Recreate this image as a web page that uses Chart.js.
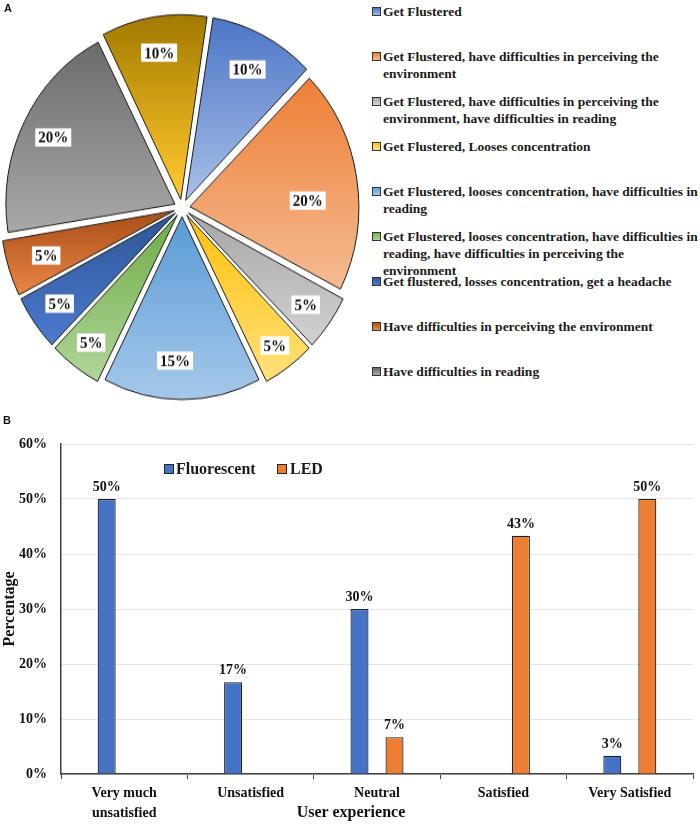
<!DOCTYPE html>
<html><head><meta charset="utf-8">
<script src="https://cdn.jsdelivr.net/npm/chart.js@4.4.1/dist/chart.umd.min.js"></script>
<style>
html,body{margin:0;padding:0;background:#fff;}
#wrap{position:relative;width:700px;height:824px;overflow:hidden;background:#fff;}
.panel{position:absolute;font:bold 11px "Liberation Sans",Arial,sans-serif;color:#111;line-height:11px;}
#pieCanvas{position:absolute;left:0;top:0;transform-origin:0 208px;transform:scaleY(1.076);}
#barCanvas{position:absolute;left:0;top:400px;}
#pieLegend{position:absolute;left:372px;top:0;width:328px;height:400px;font:bold 13.5px "Liberation Serif","Times New Roman",serif;color:#1a1a1a;}
.sw{position:absolute;left:0;width:7px;height:7px;border:1px solid #333;}
.tx{position:absolute;left:11px;white-space:nowrap;line-height:17px;}
#barLegend{position:absolute;left:0;top:0;font:bold 16px "Liberation Serif","Times New Roman",serif;color:#1a1a1a;}
.bsw{position:absolute;width:8px;height:8px;border:1px solid #222;}
.btx{position:absolute;white-space:nowrap;line-height:18px;}
#xTitle{position:absolute;left:251px;top:803px;width:200px;text-align:center;line-height:20px;font:bold 16px "Liberation Serif","Times New Roman",serif;color:#111;}
</style>
</head>
<body>
<div id="wrap">
  <canvas id="pieCanvas" width="365" height="400"></canvas>
  <div id="pieLegend"></div>
  <canvas id="barCanvas" width="700" height="424"></canvas>
  <div id="barLegend"></div>
  <div id="xTitle"></div>
  <div class="panel" style="left:4px;top:3px;">A</div>
  <div class="panel" style="left:3px;top:415px;">B</div>
</div>
<script>
const FONT_SERIF = '"Liberation Serif", "Times New Roman", serif';

// ---------- Panel A data ----------
const pieLabels = [
  ['Get Flustered'],
  ['Get Flustered, have difficulties in perceiving the', 'environment'],
  ['Get Flustered, have difficulties in perceiving the', 'environment, have difficulties in reading'],
  ['Get Flustered, Looses concentration'],
  ['Get Flustered, looses concentration, have difficulties in', 'reading'],
  ['Get Flustered, looses concentration, have difficulties in', 'reading, have difficulties in perceiving the', 'environment'],
  ['Get flustered, losses concentration, get a headache'],
  ['Have difficulties in perceiving the environment'],
  ['Have difficulties in reading'],
  ['']
];
const pieValues = [10, 20, 5, 5, 15, 5, 5, 5, 20, 10];

// ---------- Panel B data ----------
const barCategories = [['Very much', 'unsatisfied'], 'Unsatisfied', 'Neutral', 'Satisfied', 'Very Satisfied'];
const seriesNames = ['Fluorescent', 'LED'];
const fluorescentValues = [50, 16.7, 30, 0, 3.3];
const ledValues = [0, 0, 6.7, 43.3, 50];
const yTickValues = [0, 10, 20, 30, 40, 50, 60];
const xAxisTitle = 'User experience';
const yAxisTitle = 'Percentage';

// ---------- styles ----------
const sliceTop    = ['#4A74C6','#EE7F35','#A8A8A8','#FFC20E','#5D9DD7','#72AE4A','#2F5698','#A9501A','#6A6A6A','#A07800'];
const sliceBottom = ['#A5BDE6','#F5BB93','#D3D3D3','#FFE27C','#A9CAEB','#B1D69B','#4C7BCF','#EE8644','#A8A8A8','#FFC72A'];
const labelFrac   = [0.81, 0.70, 0.86, 0.89, 0.795, 0.87, 0.85, 0.80, 0.81, 0.82];
const labelAngle  = [0.5, 0.587, 0.5, 0.5, 0.555, 0.5, 0.5, 0.5, 0.5, 0.5];
const barColors = ['#4472C4', '#ED7D31'];

// ---------- Pie legend (HTML) ----------
(function(){
  const lg = document.getElementById('pieLegend');
  let k = 0;
  pieLabels.forEach((lines, i) => {
    if (!lines.join('').trim()) return;
    const yc = 11 + 45.1 * k;
    const sw = document.createElement('div');
    sw.className = 'sw';
    sw.style.top = (yc - 4.5) + 'px';
    sw.style.background = 'linear-gradient(to bottom,' + sliceTop[i] + ',' + sliceBottom[i] + ')';
    lg.appendChild(sw);
    const tx = document.createElement('div');
    tx.className = 'tx';
    tx.style.top = (yc - 8.5) + 'px';
    lines.forEach((ln, j) => {
      if (j) tx.appendChild(document.createElement('br'));
      tx.appendChild(document.createTextNode(ln));
    });
    lg.appendChild(tx);
    k++;
  });
})();

// ---------- Pie plugins ----------
const pieStyle = {
  id: 'pieStyle',
  beforeDatasetsDraw(chart) {
    const ctx = chart.ctx;
    const meta = chart.getDatasetMeta(0);
    meta.data.forEach((arc, i) => {
      const {x, y, startAngle, endAngle, outerRadius} = arc.getProps(['x','y','startAngle','endAngle','outerRadius'], true);
      const t = (arc.options.offset || 0) / 4;
      const mid = (startAngle + endAngle) / 2;
      const cy = y + Math.sin(mid) * t;
      let minY = cy, maxY = cy;
      for (let s = 0; s <= 24; s++) {
        const a = startAngle + (endAngle - startAngle) * s / 24;
        const yy = cy + Math.sin(a) * outerRadius;
        minY = Math.min(minY, yy); maxY = Math.max(maxY, yy);
      }
      const g = ctx.createLinearGradient(0, minY, 0, maxY);
      g.addColorStop(0, sliceTop[i]);
      g.addColorStop(1, sliceBottom[i]);
      arc.options.backgroundColor = g;
    });
  },
  afterDatasetsDraw(chart) {
    const ctx = chart.ctx;
    const meta = chart.getDatasetMeta(0);
    const vals = chart.data.datasets[0].data;
    ctx.save();
    ctx.font = 'bold 15px ' + FONT_SERIF;
    ctx.textAlign = 'center';
    ctx.textBaseline = 'middle';
    meta.data.forEach((arc, i) => {
      const {x, y, startAngle, endAngle, outerRadius} = arc.getProps(['x','y','startAngle','endAngle','outerRadius'], true);
      const t = (arc.options.offset || 0) / 4;
      const mid = (startAngle + endAngle) / 2;
      const la = startAngle + (endAngle - startAngle) * labelAngle[i];
      const ox = x + Math.cos(mid) * t, oy = y + Math.sin(mid) * t;
      const r = outerRadius * labelFrac[i];
      const px = ox + Math.cos(la) * r;
      const py = oy + Math.sin(la) * r;
      const txt = vals[i] + '%';
      const w = ctx.measureText(txt).width + 6;
      const h = 17;
      ctx.fillStyle = '#ffffff';
      ctx.fillRect(px - w / 2, py - h / 2, w, h);
      ctx.fillStyle = '#111111';
      ctx.fillText(txt, px, py + 1);
    });
    ctx.restore();
  }
};

new Chart(document.getElementById('pieCanvas'), {
  type: 'pie',
  data: {
    labels: pieLabels,
    datasets: [{
      data: pieValues,
      backgroundColor: sliceTop,
      borderColor: '#1a1a1a',
      borderWidth: 1,
      offset: 32
    }]
  },
  options: {
    responsive: false,
    animation: false,
    events: [],
    rotation: 9,
    radius: 168.5,
    layout: { padding: { left: 0, right: 1, top: 16, bottom: 0 } },
    plugins: { legend: { display: false }, tooltip: { enabled: false } }
  },
  plugins: [pieStyle]
});

// ---------- Bar legend (HTML) ----------
(function(){
  const lg = document.getElementById('barLegend');
  const items = [{sx:164, tx:176}, {sx:277, tx:290}];
  seriesNames.forEach((name, i) => {
    const sw = document.createElement('div');
    sw.className = 'bsw';
    sw.style.left = items[i].sx + 'px';
    sw.style.top = '464px';
    sw.style.background = barColors[i];
    lg.appendChild(sw);
    const t = document.createElement('div');
    t.className = 'btx';
    t.style.left = items[i].tx + 'px';
    t.style.top = '460px';
    t.textContent = name;
    lg.appendChild(t);
  });
  document.getElementById('xTitle').textContent = xAxisTitle;
})();

// ---------- Bar value labels ----------
const barLabels = {
  id: 'barLabels',
  afterDatasetsDraw(chart) {
    const ctx = chart.ctx;
    ctx.save();
    ctx.font = 'bold 14px ' + FONT_SERIF;
    ctx.fillStyle = '#111111';
    ctx.textAlign = 'center';
    ctx.textBaseline = 'middle';
    chart.data.datasets.forEach((ds, di) => {
      const meta = chart.getDatasetMeta(di);
      meta.data.forEach((bar, i) => {
        const v = ds.data[i];
        if (!v) return;
        ctx.fillText(Math.round(v) + '%', bar.x, bar.y - 11.5);
      });
    });
    ctx.restore();
  }
};

const tickFont = { family: FONT_SERIF, size: 14, weight: 'bold', lineHeight: 1.43 };

new Chart(document.getElementById('barCanvas'), {
  type: 'bar',
  data: {
    labels: barCategories,
    datasets: [
      { label: seriesNames[0], data: fluorescentValues, backgroundColor: barColors[0], borderColor: '#1f1f1f', borderWidth: 1.2, barPercentage: 0.514, categoryPercentage: 0.554 },
      { label: seriesNames[1], data: ledValues, backgroundColor: barColors[1], borderColor: '#1f1f1f', borderWidth: 1.2, barPercentage: 0.514, categoryPercentage: 0.554 }
    ]
  },
  options: {
    responsive: false,
    animation: false,
    events: [],
    layout: { padding: { left: 0, right: 7, top: 44, bottom: 0 } },
    plugins: {
      legend: { display: false },
      tooltip: { enabled: false }
    },
    scales: {
      x: {
        grid: { display: true, drawOnChartArea: false, drawTicks: true, tickLength: 5, color: '#404040', offset: true },
        border: { display: true, color: '#404040', width: 1.5 },
        ticks: { font: tickFont, color: '#111111', padding: 4, maxRotation: 0, autoSkip: false },
        afterFit(s) { s.height = 50; }
      },
      y: {
        min: 0, max: 60,
        afterBuildTicks(s) { s.ticks = yTickValues.map(v => ({ value: v })); },
        ticks: { font: tickFont, color: '#111111', padding: 14, callback: (v) => v + '%' },
        grid: { color: '#e6e6e6', lineWidth: 1, drawTicks: false },
        border: { display: true, color: '#404040', width: 1.5 },
        title: { display: true, text: yAxisTitle, color: '#111111', font: { family: FONT_SERIF, size: 16, weight: 'bold' }, padding: 0 },
        afterFit(s) { s.width = 61; }
      }
    }
  },
  plugins: [barLabels]
});
</script>
</body></html>
